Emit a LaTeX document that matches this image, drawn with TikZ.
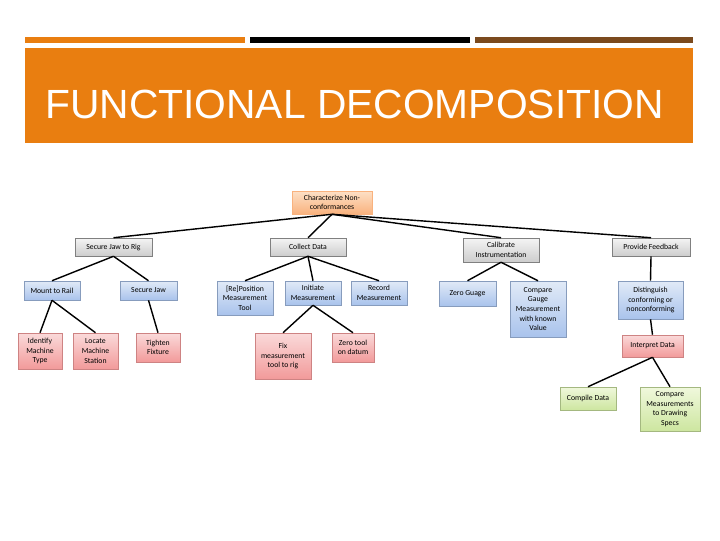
\documentclass[tikz,border=0pt]{standalone}
\usepackage{fontspec}
\setmainfont{Carlito}
\newfontfamily\titlefont{Liberation Sans}
\usetikzlibrary{shadows}
\definecolor{banner}{HTML}{E97E10}
\definecolor{barbrown}{HTML}{7B4A1E}
\definecolor{rootTop}{HTML}{FDE0C6}
\definecolor{rootBot}{HTML}{F9B27E}
\definecolor{grayTop}{HTML}{F4F4F4}
\definecolor{grayBot}{HTML}{CDCDCD}
\definecolor{blueTop}{HTML}{E1EAF7}
\definecolor{blueBot}{HTML}{A9C3EC}
\definecolor{redTop}{HTML}{FADADA}
\definecolor{redBot}{HTML}{F29A9A}
\definecolor{greenTop}{HTML}{F0F8DC}
\definecolor{greenBot}{HTML}{CDE6A0}

\begin{document}
\begin{tikzpicture}[x=0.025cm,y=-0.025cm,font=\fontsize{5.5}{6.8}\selectfont,
box/.style={align=center,inner sep=1pt,line width=.4pt,drop shadow={shadow xshift=.8pt,shadow yshift=-.8pt,opacity=.25}},
rootbox/.style={box,draw=rootBot,top color=rootTop,bottom color=rootBot},
graybox/.style={box,draw=gray,top color=grayTop,bottom color=grayBot},
bluebox/.style={box,draw=blueBot!80!black,top color=blueTop,bottom color=blueBot},
redbox/.style={box,draw=redBot!85!black,top color=redTop,bottom color=redBot},
greenbox/.style={box,draw=greenBot!80!black,top color=greenTop,bottom color=greenBot},
link/.style={line width=1pt}]
\useasboundingbox[fill=white] (0,0) rectangle (720,540);
% header bars and banner
\fill[banner] (25,37) rectangle (245,43);
\fill[black] (250,37) rectangle (470,43);
\fill[barbrown] (475,37) rectangle (693,43);
\fill[banner] (25,48) rectangle (693,143);
\node[anchor=base west,inner sep=0pt,text=white,font=\titlefont\fontsize{29}{33}\selectfont] (title) at (45,118) {FUNCTIONAL DECOMPOSITION};
% tree
\node[rootbox,minimum width=80*0.025cm,minimum height=23*0.025cm] (root) at (332,202.5) {Characterize Non-\\conformances};
\node[graybox,minimum width=77*0.025cm,minimum height=18*0.025cm] (sjr) at (113.5,247) {Secure Jaw to Rig};
\node[graybox,minimum width=76*0.025cm,minimum height=18*0.025cm] (cd) at (308,247) {Collect Data};
\node[graybox,minimum width=76*0.025cm,minimum height=24*0.025cm] (ci) at (501,250) {Calibrate\\Instrumentation};
\node[graybox,minimum width=78*0.025cm,minimum height=18*0.025cm] (pf) at (651,247) {Provide Feedback};
\node[bluebox,minimum width=56*0.025cm,minimum height=19*0.025cm] (mr) at (52,290.5) {Mount to Rail};
\node[bluebox,minimum width=57*0.025cm,minimum height=19*0.025cm] (sj) at (148.5,290.5) {Secure Jaw};
\node[bluebox,minimum width=56*0.025cm,minimum height=34*0.025cm] (rp) at (245,298) {[Re]Position\\Measurement\\Tool};
\node[bluebox,minimum width=56*0.025cm,minimum height=24*0.025cm] (im) at (313,293) {Initiate\\Measurement};
\node[bluebox,minimum width=56*0.025cm,minimum height=24*0.025cm] (rm) at (379,293) {Record\\Measurement};
\node[bluebox,minimum width=57*0.025cm,minimum height=25*0.025cm] (zg) at (467.5,293.5) {Zero Guage};
\node[bluebox,minimum width=56*0.025cm,minimum height=56*0.025cm] (cg) at (538,309) {Compare\\Gauge\\Measurement\\with known\\Value};
\node[bluebox,minimum width=65*0.025cm,minimum height=38*0.025cm] (dc) at (650.5,300) {Distinguish\\conforming or\\nonconforming};
\node[redbox,minimum width=44*0.025cm,minimum height=36*0.025cm] (imt) at (40,351) {Identify\\Machine\\Type};
\node[redbox,minimum width=45*0.025cm,minimum height=36*0.025cm] (lms) at (95.5,351) {Locate\\Machine\\Station};
\node[redbox,minimum width=44*0.025cm,minimum height=29*0.025cm] (tf) at (158,347.5) {Tighten\\Fixture};
\node[redbox,minimum width=56*0.025cm,minimum height=46*0.025cm] (fm) at (283,356) {Fix\\measurement\\tool to rig};
\node[redbox,minimum width=42*0.025cm,minimum height=29*0.025cm] (zt) at (353,347.5) {Zero tool\\on datum};
\node[redbox,minimum width=61*0.025cm,minimum height=22*0.025cm] (idt) at (652.5,346) {Interpret Data};
\node[greenbox,minimum width=56*0.025cm,minimum height=23*0.025cm] (cpd) at (588,398.5) {Compile Data};
\node[greenbox,minimum width=60*0.025cm,minimum height=44*0.025cm] (cms) at (670,409) {Compare\\Measurements\\to Drawing\\Specs};
\foreach \a/\b in {root/sjr,root/cd,root/ci,root/pf,sjr/mr,sjr/sj,cd/rp,cd/im,cd/rm,ci/zg,ci/cg,pf/dc,mr/imt,mr/lms,sj/tf,im/fm,im/zt,dc/idt,idt/cpd,idt/cms}{\draw[link] (\a.south) -- (\b.north);}
\end{tikzpicture}
\end{document}
